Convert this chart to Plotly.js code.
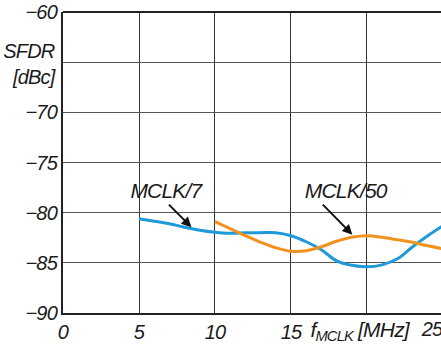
<!DOCTYPE html>
<html>
<head>
<meta charset="utf-8">
<script src="https://cdn.plot.ly/plotly-3.0.1.min.js"></script>
<style>
  html, body { margin: 0; padding: 0; background: #fff; }
  #chart { width: 441px; height: 350px; }
  #chart svg text { font-style: italic !important; letter-spacing: -0.8px; }
</style>
</head>
<body>
<div id="chart"></div>
<script>
// SFDR vs. master clock frequency, two output-frequency settings
const mclk7X  = [5, 6, 7, 8, 9, 10, 11, 12, 13, 14, 15, 16, 17, 18, 19, 20, 21, 22, 23, 24, 25];
const mclk7Y  = [-80.6, -80.85, -81.1, -81.45, -81.75, -81.95, -82.05, -82.0, -82.0, -82.0, -82.3,
                 -82.9, -83.7, -84.8, -85.25, -85.4, -85.2, -84.6, -83.4, -82.3, -81.3];
const mclk50X = [10, 11, 12, 13, 14, 15, 16, 17, 18, 19, 20, 21, 22, 23, 24, 25];
const mclk50Y = [-80.9, -81.6, -82.3, -82.95, -83.5, -83.85, -83.8, -83.4, -82.85, -82.45, -82.3,
                 -82.45, -82.7, -82.95, -83.3, -83.6];

// the 20 MHz slot carries the axis title instead of a number
const xTickVals = [0, 5, 10, 15, 20];
const xTickText = ['0', '5', '10', '15', ''];
const yTickVals = [-60, -65, -70, -75, -80, -85, -90];
const yTickText = ['\u221260', '', '\u221270', '\u221275', '\u221280', '\u221285', '\u221290'];

const seriesNames = ['MCLK/7', 'MCLK/50'];

const FONT = 'Liberation Sans, Arial, Helvetica, sans-serif';
const italic = (size) => ({ family: FONT, size: size, color: '#1a1a1a', style: 'italic' });

const traces = [
  { x: mclk7X, y: mclk7Y, name: seriesNames[0], mode: 'lines',
    line: { color: '#1e9ad8', width: 3, shape: 'spline', smoothing: 1 } },
  { x: mclk50X, y: mclk50Y, name: seriesNames[1], mode: 'lines',
    line: { color: '#f0921e', width: 3, shape: 'spline', smoothing: 1 } }
];

// pointer arrow from below a series label down to its curve
const pointer = (x, y, ax, ay) => ({
  xref: 'x', yref: 'y', x: x, y: y, axref: 'x', ayref: 'y', ax: ax, ay: ay,
  text: '', showarrow: true, arrowhead: 2, arrowsize: 1, arrowwidth: 2,
  arrowcolor: '#111', standoff: 0, startstandoff: 0
});

const layout = {
  width: 441, height: 350,
  margin: { l: 63, r: 0, t: 12, b: 37 },
  paper_bgcolor: '#fff', plot_bgcolor: '#fff',
  showlegend: false,
  xaxis: {
    range: [0, 24.87], tickmode: 'array', tickvals: xTickVals, ticktext: xTickText,
    showgrid: true, gridcolor: '#333', gridwidth: 1, zeroline: false,
    showline: true, linecolor: '#222', linewidth: 2, ticks: '',
    tickfont: italic(20)
  },
  yaxis: {
    range: [-90, -60], tickmode: 'array', tickvals: yTickVals, ticktext: yTickText,
    showgrid: true, gridcolor: '#555', gridwidth: 1, zeroline: false,
    showline: true, linecolor: '#222', linewidth: 2, ticks: '',
    tickfont: italic(20)
  },
  shapes: [
    { type: 'line', xref: 'paper', yref: 'paper', x0: 0, x1: 1, y0: 1, y1: 1,
      line: { color: '#222', width: 2 } }
  ],
  annotations: [
    { xref: 'paper', yref: 'y', x: 0, y: -65.2, xanchor: 'right', yanchor: 'middle', xshift: -6,
      text: 'SFDR<br>[dBc]', showarrow: false, align: 'right', font: italic(20) },
    { xref: 'paper', yref: 'paper', x: 0.976, y: 0, xanchor: 'center', yanchor: 'top', yshift: -3,
      text: '25', showarrow: false, font: italic(20) },
    { xref: 'x', yref: 'y', x: 15.85, y: -90, xanchor: 'left', yanchor: 'top', yshift: -3,
      text: 'f<sub>MCLK</sub> [MHz]', showarrow: false, font: italic(21) },
    { xref: 'x', yref: 'y', x: 6.82, y: -77.75, xanchor: 'center', yanchor: 'middle',
      text: seriesNames[0], showarrow: false, font: italic(21) },
    { xref: 'x', yref: 'y', x: 18.65, y: -77.75, xanchor: 'center', yanchor: 'middle',
      text: seriesNames[1], showarrow: false, font: italic(21) },
    pointer(8.45, -81.45, 6.87, -79.05),
    pointer(19.04, -82.2, 17.0, -79.05)
  ]
};

Plotly.newPlot('chart', traces, layout, { staticPlot: true, displayModeBar: false });
</script>
</body>
</html>
